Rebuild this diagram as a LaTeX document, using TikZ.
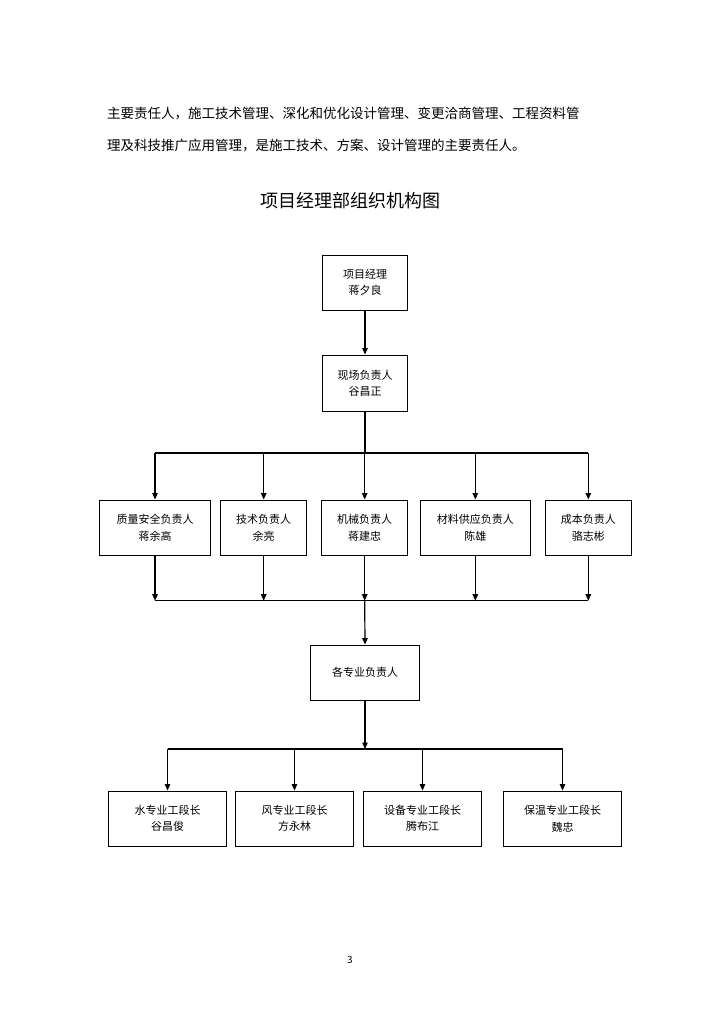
\documentclass[tikz,border=0pt]{standalone}
\usepackage{fontspec}
\setmainfont{Noto Sans CJK SC}
\usetikzlibrary{arrows.meta}
\begin{document}
\begin{tikzpicture}[x=1pt,y=-1pt,
  box/.style={draw=black,line width=0.9pt,fill=white,inner sep=0pt,align=center,
    font=\fontsize{11}{16.5}\selectfont},
  conn/.style={line width=1.2pt},
  arr/.style={line width=1.2pt,-{Triangle[length=6.5pt,width=5.5pt]}},
  para/.style={anchor=west,inner sep=0pt,font=\fontsize{13.5}{16}\selectfont}
]
\useasboundingbox[fill=white] (0,0) rectangle (723,1024);

\node[para] (t1) at (107,113) {主要责任人，施工技术管理、深化和优化设计管理、变更洽商管理、工程资料管};
\node[para] (t2) at (107,145) {理及科技推广应用管理，是施工技术、方案、设计管理的主要责任人。};
\node[inner sep=0pt,font=\fontsize{18}{20}\selectfont] (title) at (350,201) {项目经理部组织机构图};

\node[box,minimum width=85pt,minimum height=55pt] (b1) at (365,282.5) {项目经理\\蒋夕良};
\node[box,minimum width=85pt,minimum height=56.7pt] (b2) at (365,383.3) {现场负责人\\谷昌正};

\node[box,minimum width=111.4pt,minimum height=55.7pt] (q) at (155,527.8) {质量安全负责人\\蒋余高};
\node[box,minimum width=86pt,minimum height=55.7pt] (js) at (263.7,527.8) {技术负责人\\余亮};
\node[box,minimum width=86pt,minimum height=55.7pt] (jx) at (364.7,527.8) {机械负责人\\蒋建忠};
\node[box,minimum width=110.7pt,minimum height=55.7pt] (cl) at (475.3,527.8) {材料供应负责人\\陈雄};
\node[box,minimum width=86.7pt,minimum height=55.7pt] (cb) at (588.3,527.8) {成本负责人\\骆志彬};

\node[box,minimum width=108.3pt,minimum height=55pt] (zy) at (365,672.5) {各专业负责人};

\node[box,minimum width=118.4pt,minimum height=55pt] (s) at (167.5,818.5) {水专业工段长\\谷昌俊};
\node[box,minimum width=117.6pt,minimum height=55pt] (f) at (294.5,818.5) {风专业工段长\\方永林};
\node[box,minimum width=118.4pt,minimum height=55pt] (sb) at (422.5,818.5) {设备专业工段长\\腾布江};
\node[box,minimum width=118.4pt,minimum height=55pt] (bw) at (562.5,818.5) {保温专业工段长\\魏忠};

\coordinate (bus1) at (0,453);
\coordinate (bus2) at (0,600.7);
\coordinate (bus3) at (0,749);

\draw[arr] (b1.south) -- (b2.north);
\draw[conn] (b2.south) -- (b2.south |- bus1);
\draw[conn] (q.north |- bus1) -- (cb.north |- bus1);
\foreach \n in {q,js,jx,cl,cb} {
  \draw[arr] (\n.north |- bus1) -- (\n.north);
  \draw[arr] (\n.south) -- (\n.south |- bus2);
}
\draw[conn] (q.south |- bus2) -- (cb.south |- bus2);
\draw[arr] (jx.south |- bus2) -- (zy.north);
\draw[arr] (zy.south) -- (zy.south |- bus3);
\draw[conn] (s.north |- bus3) -- (bw.north |- bus3);
\foreach \n in {s,f,sb,bw} {
  \draw[arr] (\n.north |- bus3) -- (\n.north);
}

\node[inner sep=0pt,font=\fontsize{10}{12}\selectfont] (pg) at (350,960) {3};
\end{tikzpicture}
\end{document}
